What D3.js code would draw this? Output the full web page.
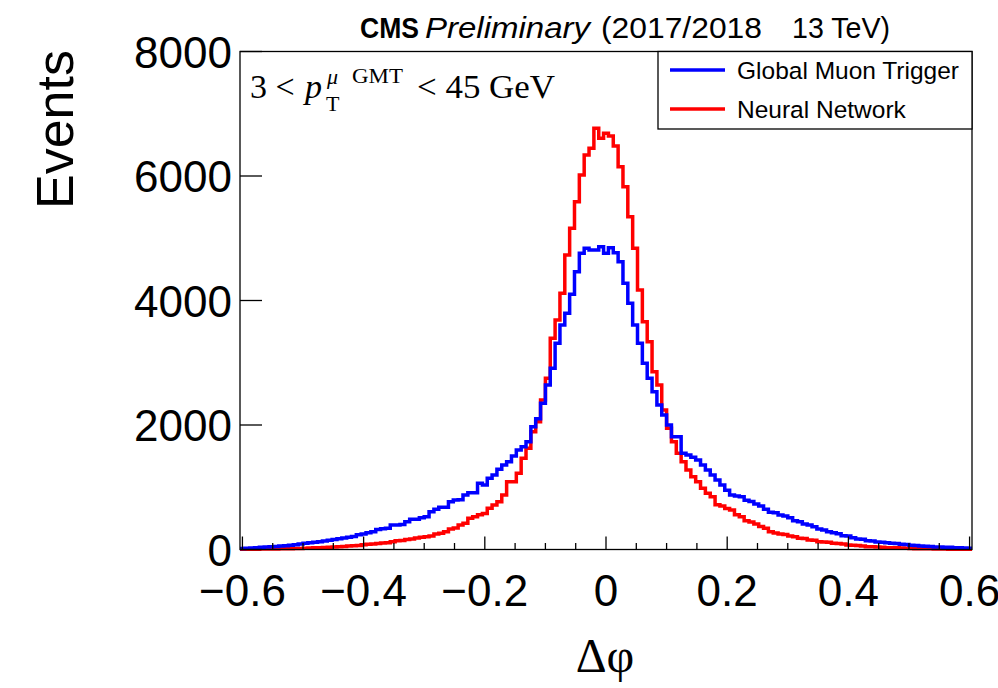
<!DOCTYPE html>
<html>
<head>
<meta charset="utf-8">
<script src="https://cdn.jsdelivr.net/npm/d3@7"></script>
<style>
  body { margin: 0; background: #fff; }
  svg { display: block; }
  text { font-family: "Liberation Sans", Arial, Helvetica, sans-serif; }
  .serif { font-family: "Liberation Serif", "Times New Roman", serif; }
</style>
</head>
<body>
<svg id="chart" width="998" height="688"></svg>
<script>
// ---------------- data ----------------
const binLow = -0.604;
const binWidth = 0.008;

const gmtValues = [
  15,20,25,30,35,40,45,50,55,62,
  70,78,90,100,108,115,125,137,148,160,
  172,185,198,210,235,250,270,286,320,335,
  340,394,394,400,447,485,485,510,527,607,
  646,678,680,768,795,800,876,912,912,1063,
  1036,1144,1197,1290,1357,1411,1502,1598,1651,1732,
  1973,2100,2349,2643,2911,3312,3606,3794,4100,4463,
  4758,4838,4811,4811,4865,4758,4849,4768,4623,4276,
  3955,3606,3312,2991,2750,2535,2321,2161,2000,1812,
  1812,1545,1518,1480,1438,1357,1277,1197,1116,1036,
  950,876,860,848,790,770,731,700,646,600,
  592,554,540,511,460,447,410,395,366,330,
  313,286,270,255,222,215,190,170,164,140,
  137,120,116,110,100,95,84,80,67,64,
  58,51,48,42,40,38,35,30,27,24,
  20
];

const nnValues = [
  3,4,5,6,7,8,9,10,11,12,
  14,16,18,22,25,28,30,33,36,42,
  45,48,55,61,65,75,83,88,98,104,
  110,125,141,145,160,169,185,196,205,217,
  250,260,286,330,345,394,420,501,527,560,
  580,661,715,768,876,1089,1089,1224,1465,1626,
  1892,2053,2402,2750,3393,3687,4116,4731,5160,5588,
  6016,6337,6445,6766,6606,6686,6643,6482,6150,5828,
  5346,4838,4169,3660,3338,2856,2643,2241,1947,1732,
  1545,1411,1277,1170,1089,983,903,848,720,700,
  660,635,560,527,460,440,410,370,340,286,
  265,249,240,217,205,180,175,153,148,125,
  120,115,100,95,90,72,70,65,55,45,
  44,42,38,30,29,27,25,22,18,14,
  13,12,11,10,8,7,6,5,4,3,
  3
];

const xTickLabels = [-0.6, -0.4, -0.2, 0, 0.2, 0.4, 0.6];
const xMinorTicks = d3.range(-12, 13).map(i => i * 0.05);
const yTickLabels = [0, 2000, 4000, 6000, 8000];
const seriesNames = ["Global Muon Trigger", "Neural Network"];
const seriesColors = ["#0000ff", "#ff0000"];

// ---------------- layout ----------------
const svg = d3.select("#chart");
const L = 240, R = 972, T = 51.5, B = 549.5;

const x = d3.scaleLinear().domain([binLow, binLow + binWidth * gmtValues.length]).range([L, R]);
const y = d3.scaleLinear().domain([0, 8000]).range([B, T]);

svg.append("rect").attr("width", 998).attr("height", 688).attr("fill", "#fff");

function stepPoints(values) {
  const pts = [];
  values.forEach((v, i) => {
    const x0 = binLow + i * binWidth, x1 = x0 + binWidth;
    pts.push([x(x0), y(v)], [x(x1), y(v)]);
  });
  return pts;
}
const line = d3.line();

// histograms (red first, blue on top)
[[nnValues, seriesColors[1]], [gmtValues, seriesColors[0]]].forEach(([vals, col]) => {
  svg.append("path")
    .attr("d", line(stepPoints(vals)))
    .attr("fill", "none")
    .attr("stroke", col)
    .attr("stroke-width", 3.5)
    .attr("stroke-linejoin", "miter");
});

// frame
svg.append("rect")
  .attr("x", L).attr("y", T).attr("width", R - L).attr("height", B - T)
  .attr("fill", "none").attr("stroke", "#000").attr("stroke-width", 1.3);

// x ticks (inside, pointing up)
const majorSet = new Set(xTickLabels.map(v => v.toFixed(2)));
svg.append("g").selectAll("line").data(xMinorTicks).join("line")
  .attr("x1", d => x(d)).attr("x2", d => x(d))
  .attr("y1", B)
  .attr("y2", d => B - (majorSet.has(d.toFixed(2)) ? 13 : 6.5))
  .attr("stroke", "#000").attr("stroke-width", 1.3);

// x tick labels
svg.append("g").selectAll("text").data(xTickLabels).join("text")
  .attr("x", d => x(d)).attr("y", 606)
  .attr("text-anchor", "middle")
  .attr("font-size", 44)
  .text(d => d === 0 ? "0" : (d < 0 ? "\u2212" : "") + Math.abs(d).toFixed(1));

// y ticks
svg.append("g").selectAll("line").data(yTickLabels).join("line")
  .attr("x1", L).attr("x2", L + 22)
  .attr("y1", d => y(d)).attr("y2", d => y(d))
  .attr("stroke", "#000").attr("stroke-width", 1.3);

svg.append("g").selectAll("text").data(yTickLabels).join("text")
  .attr("x", 232).attr("y", d => y(d) + 16)
  .attr("text-anchor", "end")
  .attr("font-size", 44)
  .text(d => String(d));

// axis titles
svg.append("text")
  .attr("transform", "translate(73,50) rotate(-90)")
  .attr("text-anchor", "end")
  .attr("font-size", 52)
  .text("Events");

svg.append("text").attr("class", "serif")
  .attr("x", 605).attr("y", 672)
  .attr("text-anchor", "middle")
  .attr("font-size", 48)
  .text("\u0394\u03c6");

// title
svg.append("text").attr("x", 360).attr("y", 38).attr("font-size", 29)
  .attr("font-weight", "bold").attr("textLength", 59).attr("lengthAdjust", "spacingAndGlyphs").text("CMS");
svg.append("text").attr("x", 425).attr("y", 38).attr("font-size", 29)
  .attr("font-style", "italic").attr("textLength", 165).attr("lengthAdjust", "spacingAndGlyphs").text("Preliminary");
svg.append("text").attr("x", 601).attr("y", 38).attr("font-size", 29)
  .attr("textLength", 161).attr("lengthAdjust", "spacingAndGlyphs").text("(2017/2018");
svg.append("text").attr("x", 792).attr("y", 38).attr("font-size", 29)
  .attr("textLength", 98).attr("lengthAdjust", "spacingAndGlyphs").text("13 TeV)");

// pT annotation
const ann = svg.append("g");
ann.append("text").attr("class", "serif").attr("x", 250).attr("y", 98).attr("font-size", 34).text("3 <");
ann.append("text").attr("class", "serif").attr("x", 305).attr("y", 98).attr("font-size", 34)
  .attr("font-style", "italic").text("p");
ann.append("text").attr("class", "serif").attr("x", 327).attr("y", 84).attr("font-size", 22)
  .attr("font-style", "italic").text("\u03bc");
ann.append("text").attr("class", "serif").attr("x", 326).attr("y", 111).attr("font-size", 22).text("T");
ann.append("text").attr("class", "serif").attr("x", 352).attr("y", 83).attr("font-size", 22)
  .attr("textLength", 51).attr("lengthAdjust", "spacingAndGlyphs").text("GMT");
ann.append("text").attr("class", "serif").attr("x", 417).attr("y", 98).attr("font-size", 34)
  .attr("textLength", 138).attr("lengthAdjust", "spacingAndGlyphs").text("< 45 GeV");

// legend
svg.append("rect")
  .attr("x", 658).attr("y", T).attr("width", R - 658).attr("height", 129 - T)
  .attr("fill", "#fff").attr("stroke", "#000").attr("stroke-width", 1.3);
const legY = [70, 109];
seriesNames.forEach((name, i) => {
  svg.append("line")
    .attr("x1", 670).attr("x2", 725).attr("y1", legY[i]).attr("y2", legY[i])
    .attr("stroke", seriesColors[i]).attr("stroke-width", 3.5);
  svg.append("text")
    .attr("x", 737).attr("y", legY[i] + 9)
    .attr("font-size", 24.5)
    .text(name);
});
</script>
</body>
</html>
